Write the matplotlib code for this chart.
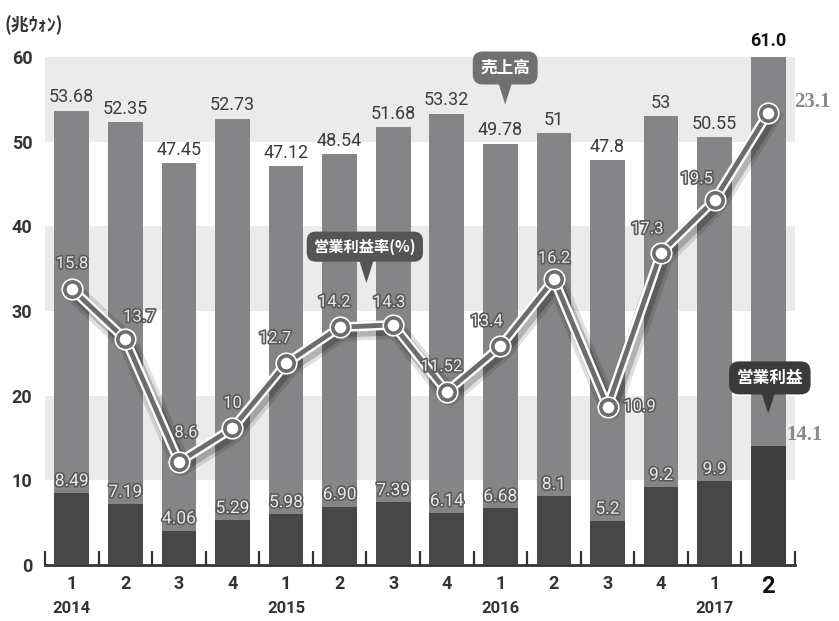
import numpy as np
import matplotlib
matplotlib.use("Agg")
import matplotlib.pyplot as plt
import matplotlib.patheffects as pe
from matplotlib.patches import Polygon

plt.rcParams['font.family'] = ['Roboto', 'DejaVu Sans', 'Noto Sans CJK JP']

quarters = ["1", "2", "3", "4", "1", "2", "3", "4", "1", "2", "3", "4", "1", "2"]
years = ["2014", "2015", "2016", "2017"]
year_pos = [0, 4, 8, 12]

# 売上高 (兆ｳｫﾝ)
sales = [53.68, 52.35, 47.45, 52.73, 47.12, 48.54, 51.68, 53.32, 49.78, 51, 47.8, 53, 50.55, 61.0]
sales_text = ["53.68", "52.35", "47.45", "52.73", "47.12", "48.54", "51.68", "53.32",
              "49.78", "51", "47.8", "53", "50.55", "61.0"]
# 営業利益 (兆ｳｫﾝ)
profit = [8.49, 7.19, 4.06, 5.29, 5.98, 6.90, 7.39, 6.14, 6.68, 8.1, 5.2, 9.2, 9.9, 14.1]
profit_text = ["8.49", "7.19", "4.06", "5.29", "5.98", "6.90", "7.39", "6.14",
               "6.68", "8.1", "5.2", "9.2", "9.9", "14.1"]
# 営業利益率 (%)
margin = [15.8, 13.7, 8.6, 10, 12.7, 14.2, 14.3, 11.52, 13.4, 16.2, 10.9, 17.3, 19.5, 23.1]
margin_text = ["15.8", "13.7", "8.6", "10", "12.7", "14.2", "14.3", "11.52",
               "13.4", "16.2", "10.9", "17.3", "19.5", "23.1"]

# label offsets (points) for the margin line
margin_off = [(0, 18), (10, 16), (5, 21), (0, 18), (-8, 18), (-4, 18), (-3, 16), (-4, 18),
              (-10, 18), (0, 15), (23, 0), (-10, 17), (-13, 15), (0, 0)]

x = np.arange(len(sales))
fig = plt.figure(figsize=(8.39, 6.21), dpi=100)
ax = fig.add_axes([45 / 839, 56 / 621, 750 / 839, 508 / 621])
ax.set_xlim(-0.5, 13.5)
ax.set_ylim(0, 60)

for lo in (10, 30, 50):
    ax.axhspan(lo, lo + 10, color="#ebebeb", zorder=0, lw=0)

w = 0.65
ax.bar(x, sales, width=w, color="#858587", zorder=2)
pcol = ["#474747"] * 13 + ["#3e3e3e"]
ax.bar(x, profit, width=w, color=pcol, zorder=3)

outline = [pe.withStroke(linewidth=2.4, foreground="#5a5a5a")]

for i in range(len(x)):
    if i < 13:
        ax.annotate(sales_text[i], (x[i], sales[i]), xytext=(0, 3), textcoords="offset points",
                    ha="center", va="bottom", fontsize=13, color="#3c3c3c", zorder=5)
        ax.annotate(profit_text[i], (x[i], profit[i]), xytext=(0, 3), textcoords="offset points",
                    ha="center", va="bottom", fontsize=12.5, color="#e8e8e8",
                    path_effects=outline, zorder=5)
ax.annotate(sales_text[13], (x[13], 60), xytext=(0, 5), textcoords="offset points",
            ha="center", va="bottom", fontsize=13, fontweight="bold", color="#111111",
            annotation_clip=False)
ax.annotate(profit_text[13], (x[13], profit[13]), xytext=(13, 8), textcoords="offset points",
            ha="left", va="center", fontsize=15, fontweight="bold", color="#8a8a8a",
            family="Liberation Serif", annotation_clip=False)

# margin line on its own hidden scale
ax2 = ax.twinx()
ax2.set_ylim(4.32, 25.43)
ax2.axis("off")
shadow = [pe.SimpleLineShadow(offset=(2, -3), shadow_color="k", alpha=0.12, linewidth=14),
          pe.SimpleLineShadow(offset=(2, -3), shadow_color="k", alpha=0.2, linewidth=9),
          pe.Normal()]
ax2.plot(x, margin, color="white", lw=7, solid_joinstyle="round", path_effects=shadow, zorder=4)
ax2.plot(x, margin, color="#6c6c6c", lw=3.5, solid_joinstyle="round", zorder=5)
ax2.plot(x, margin, ls="none", marker="o", ms=15, mfc="white", mec="white", zorder=6)
ax2.plot(x, margin, ls="none", marker="o", ms=11, mfc="white", mec="#6c6c6c", mew=2.6, zorder=7)

for i in range(13):
    ax2.annotate(margin_text[i], (x[i], margin[i]), xytext=margin_off[i], textcoords="offset points",
                 ha="center", va="center", fontsize=12, color="#e8e8e8",
                 path_effects=outline, zorder=8)
ax2.annotate(margin_text[13], (x[13], margin[13]), xytext=(32, 8), textcoords="offset points",
             ha="center", va="center", fontsize=15, fontweight="bold", color="#8a8a8a",
             family="Liberation Serif", annotation_clip=False, zorder=8)


def callout(cx, cy, tip, text, fc, size):
    ax.text(cx, cy, text, ha="center", va="center", fontsize=size, fontweight="bold",
            color="white", family=["Noto Sans CJK JP", "DejaVu Sans"], zorder=9,
            bbox=dict(boxstyle="round,pad=0.45,rounding_size=0.6", fc=fc, ec="none"))
    ax.add_patch(Polygon([(tip[0] - 0.14, cy - 1.5), (tip[0] + 0.14, cy - 1.5), tip],
                         closed=True, fc=fc, ec="none", zorder=9))


callout(8.09, 58.7, (8.09, 54.4), "売上高", "#707070", 12)
callout(5.47, 37.6, (5.5, 33.3), "営業利益率(%)", "#555555", 11)
callout(13.03, 22.1, (13.0, 17.9), "営業利益", "#3a3a3a", 12)

# axes styling
for s in ("left", "right", "top"):
    ax.spines[s].set_visible(False)
ax.spines["bottom"].set_linewidth(2)
ax.spines["bottom"].set_color("#333333")
ax.set_yticks(range(0, 61, 10))
ax.set_yticklabels([str(v) for v in range(0, 61, 10)], fontsize=13, fontweight="bold",
                   color="#333333")
ax.tick_params(axis="y", length=0, pad=9)
ax.set_xticks(x)
ax.set_xticklabels(quarters, fontsize=13, fontweight="bold", color="#333333")
ax.get_xticklabels()[-1].set_fontsize(17)
ax.get_xticklabels()[-1].set_color("#111111")
ax.tick_params(axis="x", length=0, pad=7)
ax.set_xticks(np.arange(-0.5, 14, 1), minor=True)
ax.tick_params(axis="x", which="minor", direction="in", length=10, width=1.6, color="#333333")

for yr, p in zip(years, year_pos):
    ax.annotate(yr, (p, 0), xytext=(0, -31), textcoords="offset points", ha="center",
                va="center", fontsize=12, fontweight="bold", color="#333333",
                annotation_clip=False)

fig.text(5 / 839, 1 - 25 / 621, "(兆ｳｫﾝ)", fontsize=13, fontweight="bold", color="#333333",
         family=["Noto Sans CJK JP", "DejaVu Sans"], va="center")

fig.savefig("out.png", dpi=100)
